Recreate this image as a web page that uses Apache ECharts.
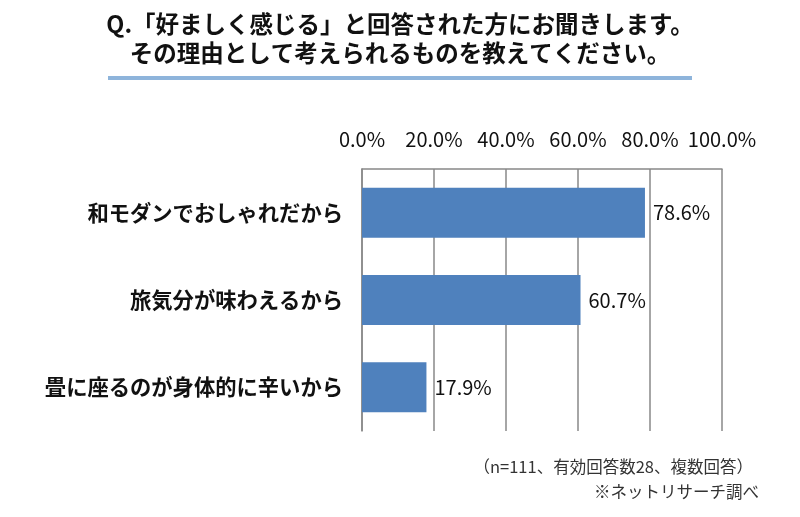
<!DOCTYPE html>
<html>
<head>
<meta charset="utf-8">
<script src="https://cdn.jsdelivr.net/npm/echarts@6/dist/echarts.min.js"></script>
<style>html,body{margin:0;padding:0;background:#fff}#c{width:800px;height:517px}</style>
</head>
<body>
<div id="c"></div>
<script>
const categories = ['和モダンでおしゃれだから', '旅気分が味わえるから', '畳に座るのが身体的に辛いから'];
const values = [78.6, 60.7, 17.9];
const tickMin = 0, tickMax = 100, tickStep = 20;
const titleLines = ['Q.「好ましく感じる」と回答された方にお聞きします。', 'その理由として考えられるものを教えてください。'];
const notes = ['（n=111、有効回答数28、複数回答）', '※ネットリサーチ調べ'];

const FONT = '"Noto Sans CJK JP", "Noto Sans", sans-serif';
const chart = echarts.init(document.getElementById('c'));
chart.setOption({
  backgroundColor: '#fff',
  animation: false,
  textStyle: { fontFamily: FONT },
  title: {
    text: titleLines.join('\n'),
    left: 'center',
    top: 5,
    textStyle: { fontFamily: FONT, fontSize: 23.5, fontWeight: 'bold', color: '#111', lineHeight: 29 }
  },
  graphic: [
    { type: 'rect', shape: { x: 108, y: 76, width: 584, height: 4 }, style: { fill: '#8EB4DB' } },
    { type: 'text', style: { x: 753, y: 467, text: notes[0], textAlign: 'right', textVerticalAlign: 'middle', fontFamily: FONT, fontSize: 16.5, fill: '#333' } },
    { type: 'text', style: { x: 759, y: 492, text: notes[1], textAlign: 'right', textVerticalAlign: 'middle', fontFamily: FONT, fontSize: 16.5, fill: '#333' } }
  ],
  grid: { left: 362, right: 78, top: 169, bottom: 86, containLabel: false },
  xAxis: {
    type: 'value', position: 'top', min: tickMin, max: tickMax, interval: tickStep,
    axisLine: { show: true, lineStyle: { color: '#888', width: 1.5 } },
    axisTick: { show: false },
    splitLine: { show: true, lineStyle: { color: '#888', width: 1.5 } },
    axisLabel: { formatter: v => v.toFixed(1) + '%', fontSize: 20, color: '#111', margin: 20, fontFamily: FONT }
  },
  yAxis: {
    type: 'category', data: categories, inverse: true,
    axisLine: { show: true, lineStyle: { color: '#888', width: 1.5 } },
    axisTick: { show: false },
    axisLabel: { fontSize: 21.3, fontWeight: 'bold', color: '#111', margin: 19, fontFamily: FONT }
  },
  series: [{
    type: 'bar', data: values, barWidth: 50,
    itemStyle: { color: '#4F81BD' },
    label: { show: true, position: 'right', distance: 8, formatter: p => p.value.toFixed(1) + '%', fontSize: 20, color: '#111', fontFamily: FONT }
  }]
});
</script>
</body>
</html>
